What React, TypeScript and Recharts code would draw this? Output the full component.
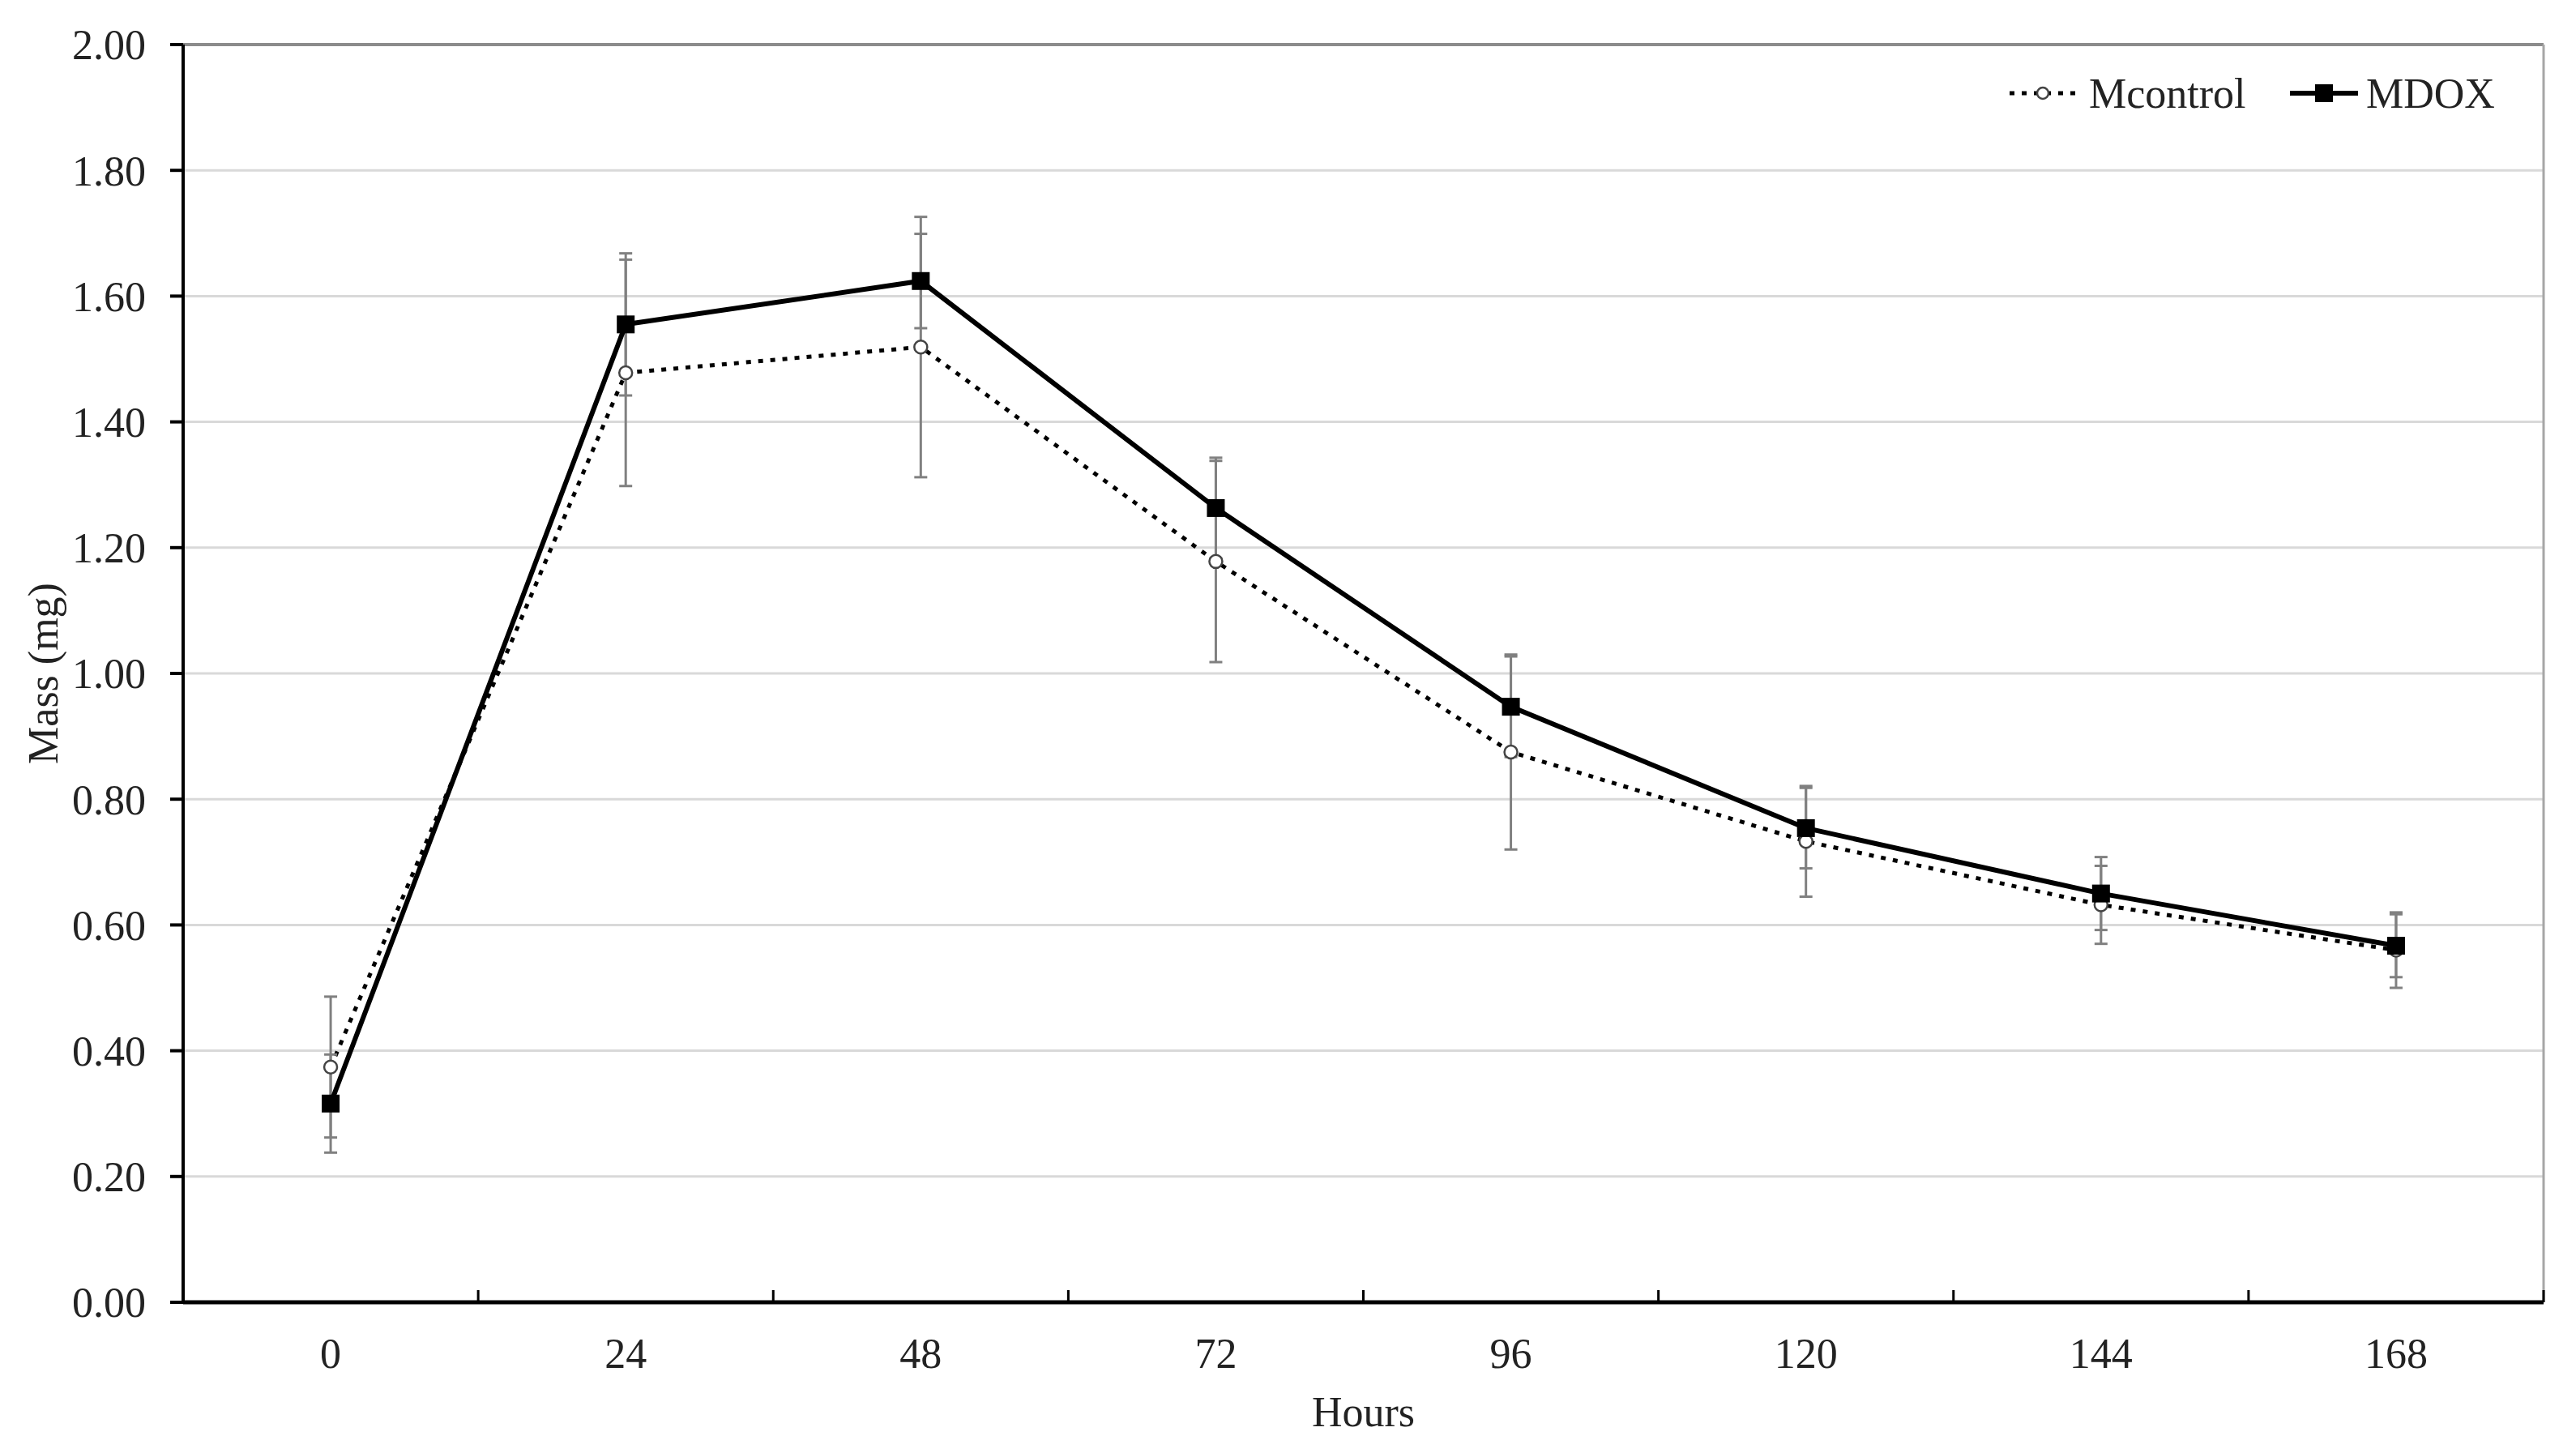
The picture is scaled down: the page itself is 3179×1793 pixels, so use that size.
import React from 'react';
import {
  LineChart,
  Line,
  XAxis,
  YAxis,
  CartesianGrid,
  ErrorBar,
  Legend,
  ReferenceLine,
  Label,
} from 'recharts';

const hours = [0, 24, 48, 72, 96, 120, 144, 168];
const mcontrol = [0.374, 1.478, 1.519, 1.178, 0.875, 0.733, 0.632, 0.56];
const mcontrolErr = [0.112, 0.18, 0.207, 0.16, 0.155, 0.088, 0.062, 0.06];
const mdox = [0.316, 1.555, 1.624, 1.263, 0.947, 0.754, 0.65, 0.567];
const mdoxErr = [0.078, 0.113, 0.075, 0.08, 0.08, 0.064, 0.058, 0.05];

const yTicks = [0, 0.2, 0.4, 0.6, 0.8, 1.0, 1.2, 1.4, 1.6, 1.8, 2.0];
const hourBoundaries = [12, 36, 60, 84, 108, 132, 156, 180];
const xDomain = [-12, 180];
const seriesNames = ['Mcontrol', 'MDOX'];

const data = hours.map((h, i) => ({
  hour: h,
  mcontrol: mcontrol[i],
  mcontrolErr: mcontrolErr[i],
  mdox: mdox[i],
  mdoxErr: mdoxErr[i],
}));

const FONT = '"Liberation Serif", "Times New Roman", Times, serif';
const TEXT = '#222';
const FS = 52;

const XTick = (props: any) => {
  const { x, y, payload } = props;
  const v = payload.value;
  if (hours.includes(v)) {
    return (
      <text x={x} y={y + 81} textAnchor="middle" fontSize={FS} fontFamily={FONT} fill={TEXT}>
        {v}
      </text>
    );
  }
  return <line x1={x} x2={x} y1={y} y2={y - 15} stroke="#000" strokeWidth={3} />;
};

const CircleDot = (props: any) => {
  const { cx, cy, index } = props;
  if (cx == null || cy == null) return null;
  return (
    <circle key={`c-${index}`} cx={cx} cy={cy} r={8} fill="#fff" stroke="#444" strokeWidth={2.5} />
  );
};

const SquareDot = (props: any) => {
  const { cx, cy, index } = props;
  if (cx == null || cy == null) return null;
  return <rect key={`s-${index}`} x={cx - 11} y={cy - 11} width={22} height={22} fill="#000" />;
};

const LegendContent = () => {
  return (
    <svg width={700} height={80} style={{ display: 'block' }}>
      <line x1={20} x2={102} y1={40} y2={40} stroke="#000" strokeWidth={5} strokeDasharray="6 9" />
      <circle cx={61} cy={40} r={7} fill="#fff" stroke="#444" strokeWidth={2.5} />
      <text x={118} y={58} fontSize={FS} fontFamily={FONT} fill={TEXT}>
        {seriesNames[0]}
      </text>
      <line x1={366} x2={450} y1={40} y2={40} stroke="#000" strokeWidth={6} />
      <rect x={397} y={29} width={22} height={22} fill="#000" />
      <text x={460} y={58} fontSize={FS} fontFamily={FONT} fill={TEXT}>
        {seriesNames[1]}
      </text>
    </svg>
  );
};

export default function App() {
  return (
    <div style={{ position: 'absolute', left: 0, top: 0, width: 3179, height: 1793, background: '#fff' }}>
      <LineChart
        width={3179}
        height={1793}
        data={data}
        margin={{ top: 55, right: 40, bottom: 0, left: 0 }}
      >
        <CartesianGrid vertical={false} stroke="#d9d9d9" strokeWidth={3} />
        <XAxis
          dataKey="hour"
          type="number"
          domain={xDomain}
          ticks={[...hours, ...hourBoundaries]}
          interval={0}
          height={186}
          tickSize={0}
          tickMargin={0}
          tickLine={false}
          tick={<XTick />}
          axisLine={{ stroke: '#000', strokeWidth: 5 }}
        >
          <Label
            value="Hours"
            position="insideBottom"
            offset={33}
            style={{ fontSize: FS, fontFamily: FONT, fill: TEXT }}
          />
        </XAxis>
        <YAxis
          type="number"
          domain={[0, 2]}
          ticks={yTicks}
          interval={0}
          width={226}
          tickSize={16}
          tickMargin={30}
          tickFormatter={(v: number) => v.toFixed(2)}
          tick={{ fontSize: FS, fontFamily: FONT, fill: TEXT }}
          tickLine={{ stroke: '#000', strokeWidth: 4 }}
          axisLine={{ stroke: '#000', strokeWidth: 4 }}
        >
          <Label
            value="Mass (mg)"
            angle={-90}
            position="insideLeft"
            offset={53}
            style={{ fontSize: FS, fontFamily: FONT, fill: TEXT, textAnchor: 'middle' }}
          />
        </YAxis>
        <ReferenceLine y={2} stroke="#8c8c8c" strokeWidth={4} />
        <ReferenceLine x={180} stroke="#a6a6a6" strokeWidth={3} />
        <Legend
          layout="vertical"
          verticalAlign="middle"
          align="center"
          content={<LegendContent />}
          wrapperStyle={{ left: 2460, top: 75, width: 700, height: 80 }}
        />
        <Line
          name="Mcontrol"
          dataKey="mcontrol"
          stroke="#000"
          strokeWidth={5}
          strokeDasharray="6 9"
          dot={<CircleDot />}
          activeDot={false}
          isAnimationActive={false}
        >
          <ErrorBar dataKey="mcontrolErr" width={8} stroke="#808080" strokeWidth={3} direction="y" />
        </Line>
        <Line
          name="MDOX"
          dataKey="mdox"
          stroke="#000"
          strokeWidth={6}
          dot={<SquareDot />}
          activeDot={false}
          isAnimationActive={false}
        >
          <ErrorBar dataKey="mdoxErr" width={8} stroke="#808080" strokeWidth={3} direction="y" />
        </Line>
      </LineChart>
    </div>
  );
}
